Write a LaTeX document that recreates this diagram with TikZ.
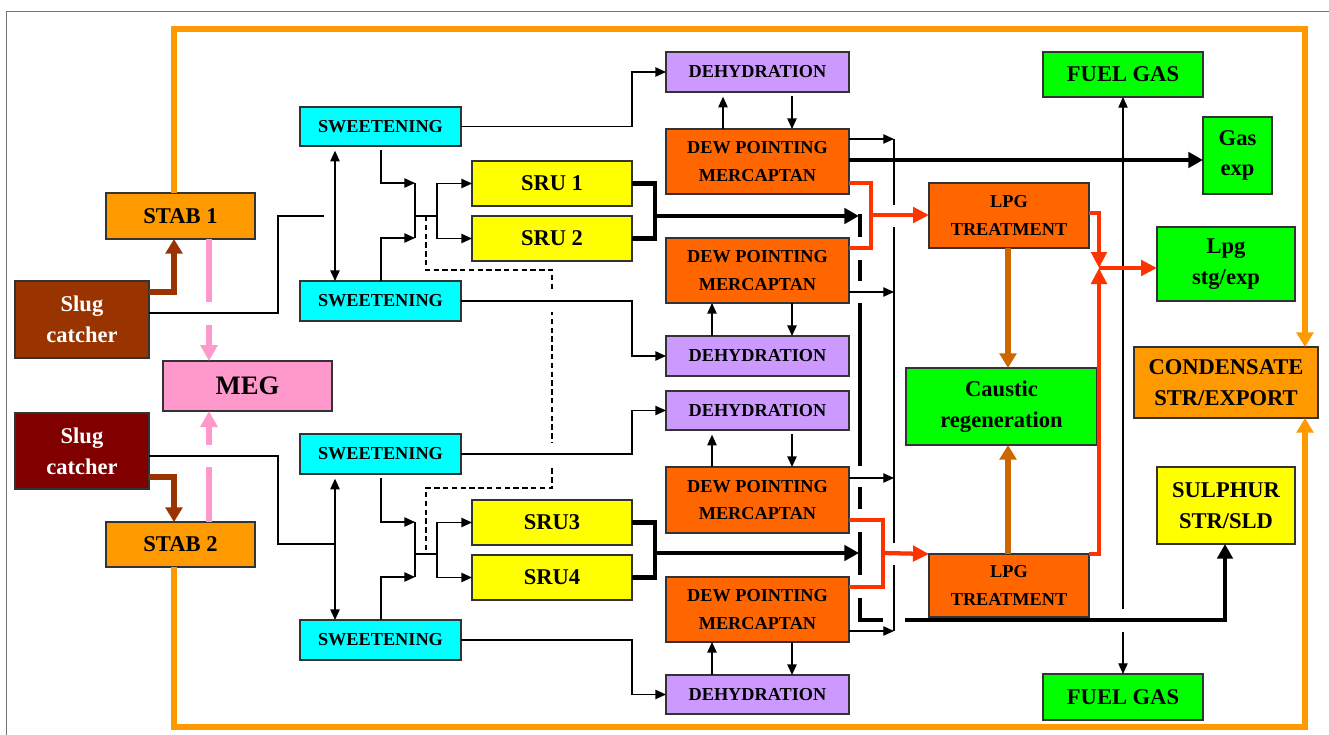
\documentclass[tikz,border=0pt]{standalone}
\usepackage{fontspec}
\setmainfont{Liberation Serif}
\usetikzlibrary{arrows.meta,calc}
\definecolor{cOr}{HTML}{FF9900}
\definecolor{cBr}{HTML}{993300}
\definecolor{cMa}{HTML}{800000}
\definecolor{cPk}{HTML}{FF99CC}
\definecolor{cCy}{HTML}{00FFFF}
\definecolor{cYe}{HTML}{FFFF00}
\definecolor{cVi}{HTML}{CC99FF}
\definecolor{cDw}{HTML}{FF6600}
\definecolor{cGr}{HTML}{00FF00}
\definecolor{cRd}{HTML}{FF3300}
\definecolor{cCa}{HTML}{CC6600}
\newcommand{\fSm}{\fontsize{13.7}{20.5}\selectfont\bfseries}
\newcommand{\fBg}{\fontsize{16.9}{23}\selectfont\bfseries}
\newcommand{\fMg}{\fontsize{20}{24}\selectfont\bfseries}
\newcommand{\bx}[7]{\node[box,#6,minimum width={(#4-#2)*0.75pt},minimum height={(#5-#3)*0.75pt}] (#1) at ({(#2+#4)/2},{(#3+#5)/2}) {#7};}
\tikzset{
  box/.style={draw=black!80, line width=0.9pt, inner sep=0pt, outer sep=0pt, align=center, font=\fBg, text=black},
  ln/.style={line width=1.1pt, draw=black},
  lnA/.style={ln, -{Triangle[length=8pt,width=7pt]}},
  lnAA/.style={ln, {Triangle[length=8pt,width=7pt]}-{Triangle[length=8pt,width=7pt]}},
  hv/.style={line width=3.6pt, draw=black, line join=miter},
  hvA/.style={hv, -{Triangle[length=11pt,width=11.5pt]}},
  redl/.style={draw=cRd, line width=3.2pt, line join=miter},
  redA/.style={redl, -{Triangle[length=12pt,width=11.5pt]}},
  orA/.style={draw=cOr, line width=3.8pt, line join=miter, -{Triangle[length=11pt,width=12.5pt]}},
  brA/.style={draw=cBr, line width=3.8pt, line join=miter, -{Triangle[length=11pt,width=12.5pt]}},
  pkA/.style={draw=cPk, line width=4.3pt, -{Triangle[length=12pt,width=12.5pt]}},
  caA/.style={draw=cCa, line width=3.8pt, -{Triangle[length=11pt,width=12.5pt]}},
  dsh/.style={line width=0.9pt, draw=black, dash pattern=on 4pt off 2.6pt}
}
\begin{document}
\begin{tikzpicture}[x=0.75pt,y=-0.75pt]
\useasboundingbox (0,0) rectangle (1329,735);
\fill[white] (0,0) rectangle (1329,735);
\draw[black!55, line width=0.8pt] (1329,11.5) -- (6.5,11.5) -- (6.5,735);

% ---------- nodes ----------
\bx{stab1}{106}{193}{255}{239}{fill=cOr}{STAB 1}
\bx{slug1}{15}{281}{149}{358}{fill=cBr,text=white}{Slug\\catcher}
\bx{meg}{163}{361}{332}{411}{fill=cPk,font=\fMg}{MEG}
\bx{slug2}{15}{413}{149}{489}{fill=cMa,text=white}{Slug\\catcher}
\bx{stab2}{106}{522}{255}{567}{fill=cOr}{STAB 2}
\bx{sw1}{300}{107}{461}{146}{fill=cCy,font=\fSm}{SWEETENING}
\bx{sw2}{300}{281}{461}{321}{fill=cCy,font=\fSm}{SWEETENING}
\bx{sw3}{300}{434}{461}{474}{fill=cCy,font=\fSm}{SWEETENING}
\bx{sw4}{300}{620}{461}{660}{fill=cCy,font=\fSm}{SWEETENING}
\bx{sru1}{472}{161}{632}{206}{fill=cYe}{SRU 1}
\bx{sru2}{472}{216}{632}{261}{fill=cYe}{SRU 2}
\bx{sru3}{472}{500}{632}{545}{fill=cYe}{SRU3}
\bx{sru4}{472}{555}{632}{600}{fill=cYe}{SRU4}
\bx{dh1}{666}{52}{849}{92}{fill=cVi,font=\fSm}{DEHYDRATION}
\bx{dw1}{666}{129}{849}{194}{fill=cDw,font=\fSm}{DEW POINTING\\MERCAPTAN}
\bx{dw2}{666}{238}{849}{303}{fill=cDw,font=\fSm}{DEW POINTING\\MERCAPTAN}
\bx{dh2}{666}{336}{849}{376}{fill=cVi,font=\fSm}{DEHYDRATION}
\bx{dh3}{666}{391}{849}{430}{fill=cVi,font=\fSm}{DEHYDRATION}
\bx{dw3}{666}{467}{849}{533}{fill=cDw,font=\fSm}{DEW POINTING\\MERCAPTAN}
\bx{dw4}{666}{577}{849}{642}{fill=cDw,font=\fSm}{DEW POINTING\\MERCAPTAN}
\bx{dh4}{666}{675}{849}{714}{fill=cVi,font=\fSm}{DEHYDRATION}
\bx{fuel1}{1043}{52}{1203}{97}{fill=cGr}{FUEL GAS}
\bx{gas}{1203}{117}{1272}{194}{fill=cGr}{Gas\\exp}
\bx{lpg1}{929}{183}{1089}{248}{fill=cDw,font=\fSm}{LPG\\TREATMENT}
\bx{lpgs}{1157}{227}{1295}{301}{fill=cGr}{Lpg\\stg/exp}
\bx{cond}{1134}{347}{1318}{418}{fill=cOr}{CONDENSATE\\STR/EXPORT}
\bx{caus}{906}{368}{1097}{445}{fill=cGr}{Caustic\\regeneration}
\bx{sul}{1157}{467}{1295}{544}{fill=cYe}{SULPHUR\\STR/SLD}
\bx{lpg2}{929}{554}{1089}{617}{fill=cDw,font=\fSm}{LPG\\TREATMENT}
\bx{fuel2}{1043}{674}{1203}{720}{fill=cGr}{FUEL GAS}

% ---------- coordinates ----------
\coordinate (oTR) at (1305,29);
\coordinate (oBR) at (1305,727);
\coordinate (e1) at (324,216);
\coordinate (e2) at (335,544);
\coordinate (ja) at (415,183);
\coordinate (jb) at (415,238);
\coordinate (jm) at (415,216);
\coordinate (jd) at (426,216);
\coordinate (jn) at (437,216);
\coordinate (ja2) at (415,522);
\coordinate (jb2) at (415,577);
\coordinate (jm2) at (415,554);
\coordinate (jd2) at (426,554);
\coordinate (jn2) at (437,554);
\coordinate (jS) at (655,216);
\coordinate (jS2) at (655,553);
\coordinate (cT1) at (859,216);
\coordinate (cT2) at (859,553);
\coordinate (cA) at (860,214);
\coordinate (cB) at (860,620);
\coordinate (cC) at (1225,620);
\coordinate (h1) at (894,139);
\coordinate (h2) at (894,292);
\coordinate (h3) at (894,478);
\coordinate (h4) at (894,631);
\coordinate (rj1) at (871,215);
\coordinate (rj2) at (883,553);
\coordinate (rj3) at (1099,268);
\coordinate (fj1) at (1123,609);
\coordinate (fj2) at (1123,632);

% ---------- big loops ----------
\draw[orA] (stab1.north -| 174,0) |- (oTR) -- (cond.north -| oTR);
\draw[orA] (stab2.south -| 174,0) |- (oBR) -- (cond.south -| oBR);

% ---------- slug catchers ----------
\draw[brA] (slug1.east |- 0,292) -| (stab1.south -| 174,0);
\draw[brA] (slug2.east |- 0,477) -| (stab2.north -| 174,0);
\draw[pkA, dash pattern=on 47.25pt off 17.25pt] (stab1.south -| 209,0) -- (meg.north -| 209,0);
\draw[pkA, dash pattern=on 41.25pt off 16.5pt] (stab2.north -| 209,0) -- (meg.south -| 209,0);
\draw[ln] (slug1.east |- 0,313) -| (278,216) -- (e1);
\draw[ln] (slug2.east |- 0,456) -| (278,544) -- (e2);

% ---------- sweetening ----------
\draw[lnAA, shorten <=3.5pt] (sw1.south -| 335,0) -- (sw2.north -| 335,0);
\draw[lnAA, shorten <=3.5pt] (sw3.south -| 335,0) -- (sw4.north -| 335,0);

\draw[dsh] (jd) -- (426,270) -- (552,270) -- (552,488) -- (426,488) -- (jd2);
\fill[white] (547,290) rectangle (557,312);
\fill[white] (547,443) rectangle (557,466);

\draw[lnA, shorten <=3pt] (sw1.south -| 381,0) |- (ja);
\draw[lnA] (sw2.north -| 381,0) |- (jb);
\draw[ln] (ja) -- (jb) (jm) -- (jn);
\draw[lnA] (jn) |- (sru1.west);
\draw[lnA] (jn) |- (sru2.west);
\draw[lnA, shorten <=3pt] (sw3.south -| 381,0) |- (ja2);
\draw[lnA] (sw4.north -| 381,0) |- (jb2);
\draw[ln] (ja2) -- (jb2) (jm2) -- (jn2);
\draw[lnA] (jn2) |- (sru3.west);
\draw[lnA] (jn2) |- (sru4.west);

\draw[lnA] (sw1.east) -- (sw1.east -| 632,0) |- (dh1.west);
\draw[lnA] (sw2.east) -- (sw2.east -| 632,0) |- (dh2.west);
\draw[lnA] (sw3.east) -- (sw3.east -| 632,0) |- (dh3.west);
\draw[lnA] (sw4.east) -- (sw4.east -| 632,0) |- (dh4.west);

% ---------- dehydration / dew pointing ----------
\draw[lnA, shorten >=3.5pt] (dw1.north -| 723,0) -- (dh1.south -| 723,0);
\draw[lnA, shorten <=3pt] (dh1.south -| 792,0) -- (dw1.north -| 792,0);
\draw[lnA] (dh2.north -| 712,0) -- (dw2.south -| 712,0);
\draw[lnA] (dw2.south -| 792,0) -- (dh2.north -| 792,0);
\draw[lnA, shorten >=3.5pt] (dw3.north -| 712,0) -- (dh3.south -| 712,0);
\draw[lnA, shorten <=3pt] (dh3.south -| 792,0) -- (dw3.north -| 792,0);
\draw[lnA] (dh4.north -| 712,0) -- (dw4.south -| 712,0);
\draw[lnA] (dw4.south -| 792,0) -- (dh4.north -| 792,0);

% ---------- SRU outlets ----------
\draw[hv] (sru1.east) -| (jS) |- (sru2.east);
\draw[hvA] (jS) -- (cT1);
\draw[hv] (sru3.east) -| (jS2) |- (sru4.east);
\draw[hvA] (jS2) -- (cT2);

% ---------- thin header ----------
\draw[ln, line width=0.9pt] (h1) -- (894,205) (894,227) -- (894,543) (894,565) -- (h4);
\draw[lnA, line width=0.9pt] (dw1.east |- h1) -- (h1);
\draw[lnA, line width=0.9pt] (dw2.east |- h2) -- (h2);
\draw[lnA, line width=0.9pt] (dw3.east |- h3) -- (h3);
\draw[lnA, line width=0.9pt] (dw4.east |- h4) -- (h4);

% ---------- fuel gas ----------
\draw[lnA, line width=0.8pt] (fj1) -- (fuel1.south);
\draw[lnA, line width=0.8pt] (fj2) -- (fuel2.north);

% ---------- gas export ----------
\draw[hvA] (dw1.east |- 0,160) -- (gas.west |- 0,160);

% ---------- collector to sulphur ----------
\draw[hvA, dash pattern=on 17.25pt off 17.25pt on 15.75pt off 16.5pt on 122.25pt off 15.75pt on 16.5pt off 17.25pt on 32.25pt off 17.25pt on 33.75pt off 16.5pt on 750pt off 1pt] (cA) -- (cB) -- (cC) -- (sul.south -| cC);

% ---------- LPG ----------
\draw[redl] (dw1.east |- 0,183) -| (rj1) |- (dw2.east |- 0,248);
\draw[redA] (rj1) -- (lpg1.west |- rj1);
\draw[redl] (dw3.east |- 0,520) -| (rj2) |- (dw4.east |- 0,587);
\draw[redA] (rj2) -- (lpg2.north west);
\draw[redA] (lpg1.east |- 0,213) -| (rj3);
\draw[redA] (lpg2.north east) -| (rj3);
\draw[redA] (rj3) -- (lpgs.west |- rj3);

\draw[caA] (lpg1.south -| 1008,0) -- (caus.north -| 1008,0);
\draw[caA] (lpg2.north -| 1008,0) -- (caus.south -| 1008,0);
\end{tikzpicture}
\end{document}
